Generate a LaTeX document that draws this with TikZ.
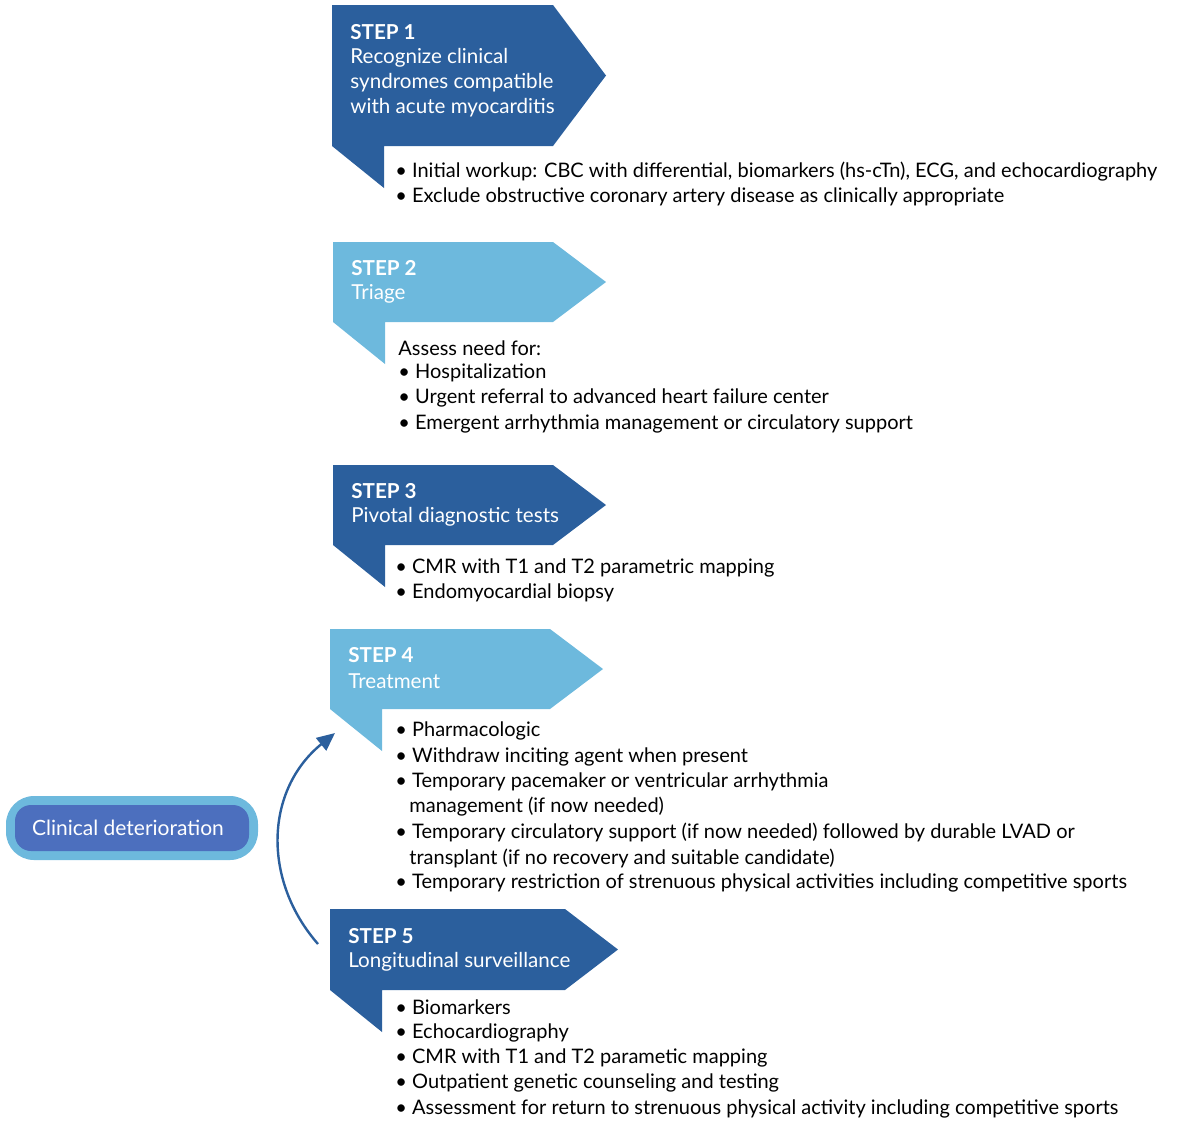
\documentclass[tikz,border=0pt]{standalone}
\usepackage{fontspec}
\setmainfont{Lato}
\usetikzlibrary{arrows.meta}
\definecolor{dk}{HTML}{2B5F9D}
\definecolor{lt}{HTML}{6DB9DD}
\definecolor{cd}{HTML}{4C6FBE}
\begin{document}
\begin{tikzpicture}[x=0.5pt,y=-0.5pt,
  title/.style={anchor=west,inner sep=0pt,text=white,font=\fontsize{10.3}{12.5}\selectfont},
  body/.style={anchor=west,inner sep=0pt,font=\fontsize{10}{12.5}\selectfont},
  blt/.style={anchor=west,inner sep=0pt,font=\fontsize{10}{12.5}\selectfont}]
\useasboundingbox (0,0) rectangle (1200,1126);
% banner: #1 left x, #2 top y, #3 bottom y, #4 tip x, #5 colour
\newcommand\banner[5]{%
  \fill[#5] (#1,#2) -- ({#4-53},#2) -- (#4,{(#2+#3)/2}) -- ({#4-53},#3) -- ({#1+52},#3) -- ({#1+52},{#3+42}) -- (#1,#3) -- cycle;}
\banner{332}{5}{146}{606}{dk}
\banner{333}{242}{322}{606}{lt}
\banner{333}{465}{545}{606}{dk}
\banner{330}{629}{709}{603}{lt}
\banner{330}{909}{990}{618}{dk}
% step 1
\node[title] (s1a) at (350,32) {\bfseries STEP 1};
\node[title] (s1b) at (350,58) {Recognize clinical};
\node[title] (s1c) at (350,83) {syndromes compatible};
\node[title] (s1d) at (350,108) {with acute myocarditis};
\node[body] (b11) at (395,172) {• Initial workup: CBC with differential, biomarkers (hs-cTn), ECG, and echocardiography};
\node[body] (b12) at (395,197) {• Exclude obstructive coronary artery disease as clinically appropriate};
% step 2
\node[title] (s2a) at (351,268) {\bfseries STEP 2};
\node[title] (s2b) at (351,294) {Triage};
\node[body] (b20) at (398,348) {Assess need for:};
\node[body] (b21) at (398,373) {• Hospitalization};
\node[body] (b22) at (398,398) {• Urgent referral to advanced heart failure center};
\node[body] (b23) at (398,424) {• Emergent arrhythmia management or circulatory support};
% step 3
\node[title] (s3a) at (351,491) {\bfseries STEP 3};
\node[title] (s3b) at (351,517) {Pivotal diagnostic tests};
\node[body] (b31) at (395,568) {• CMR with T1 and T2 parametric mapping};
\node[body] (b32) at (395,593) {• Endomyocardial biopsy};
% step 4
\node[title] (s4a) at (348,655) {\bfseries STEP 4};
\node[title] (s4b) at (348,681) {Treatment};
\node[body] (b41) at (395,731) {• Pharmacologic};
\node[body] (b42) at (395,757) {• Withdraw inciting agent when present};
\node[body] (b43) at (395,782) {• Temporary pacemaker or ventricular arrhythmia};
\node[body] (b43b) at (409,807) {management (if now needed)};
\node[body] (b44) at (395,832) {• Temporary circulatory support (if now needed) followed by durable LVAD or};
\node[body] (b44b) at (409,858) {transplant (if no recovery and suitable candidate)};
\node[body] (b45) at (395,883) {• Temporary restriction of strenuous physical activities including competitive sports};
% step 5
\node[title] (s5a) at (348,936) {\bfseries STEP 5};
\node[title] (s5b) at (348,962) {Longitudinal surveillance};
\node[body] (b51) at (395,1007) {• Biomarkers};
\node[body] (b52) at (395,1033) {• Echocardiography};
\node[body] (b53) at (395,1058) {• CMR with T1 and T2 parametic mapping};
\node[body] (b54) at (395,1083) {• Outpatient genetic counseling and testing};
\node[body] (b55) at (395,1109) {• Assessment for return to strenuous physical activity including competitive sports};
% clinical deterioration
\fill[lt,rounded corners=14pt] (6,796) rectangle (258,860);
\fill[cd,rounded corners=8pt] (15,805) rectangle (249,851);
\node[text=white,inner sep=0pt,font=\fontsize{10.5}{12}\selectfont] (cd) at (128,828) {Clinical deterioration};
% arrow
\coordinate (from5) at (318,944);
\coordinate (to4) at (335,733);
\draw[dk,line width=1.2pt,-{Triangle[length=9pt,width=8pt]}] (from5) .. controls (262,880) and (265,790) .. (to4);
\end{tikzpicture}
\end{document}
